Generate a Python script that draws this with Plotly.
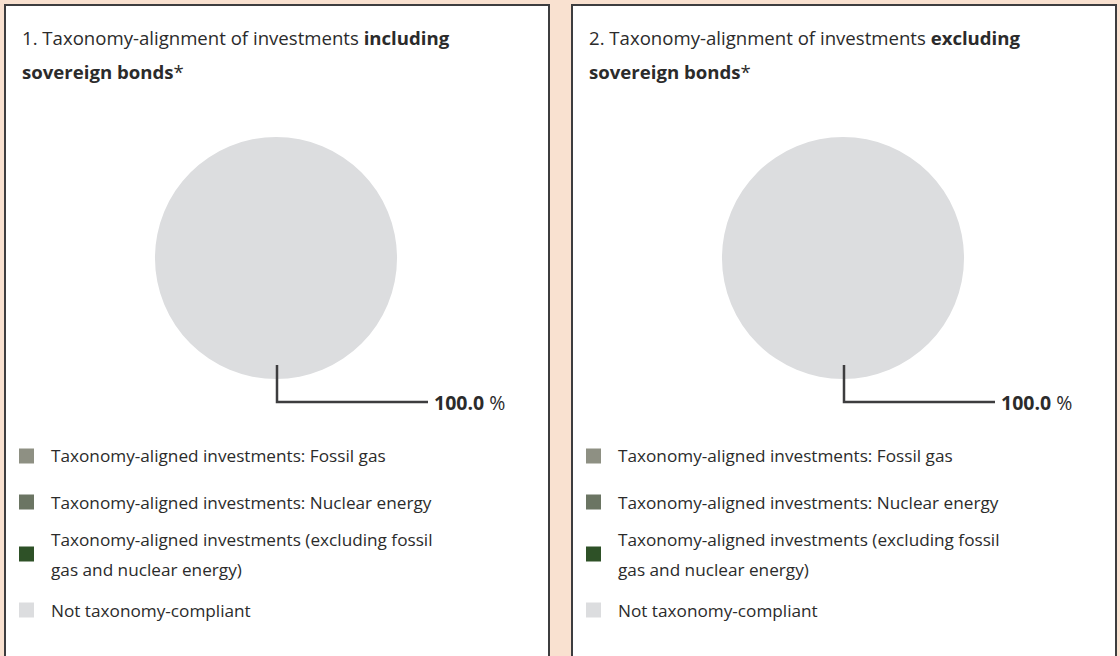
import plotly.graph_objects as go

W, H = 1120, 656

# ---- data ----
categories = [
    "Taxonomy-aligned investments: Fossil gas",
    "Taxonomy-aligned investments: Nuclear energy",
    "Taxonomy-aligned investments (excluding fossil<br>gas and nuclear energy)",
    "Not taxonomy-compliant",
]
colors = ["#8e9083", "#6b7563", "#2e5127", "#dcdddf"]
values_incl = [0.0, 0.0, 0.0, 100.0]
values_excl = [0.0, 0.0, 0.0, 100.0]
panel_titles = [
    ("1. Taxonomy-alignment of investments <b>including</b>", "<b>sovereign bonds</b>*"),
    ("2. Taxonomy-alignment of investments <b>excluding</b>", "<b>sovereign bonds</b>*"),
]

BG = "#f9e1d0"
INK = "#2b2b2b"
LINE = "#3d3d3f"
FONT = "Open Sans"


def px(x):
    return x / W


def py(y):
    return 1 - y / H


fig = go.Figure()
shapes = []
annotations = []

panel_left = [5, 572]
panel_w = 544
series = [values_incl, values_excl]

for p, (x0, vals) in enumerate(zip(panel_left, series)):
    # panel box
    shapes.append(dict(type="rect", xref="paper", yref="paper",
                       x0=px(x0), x1=px(x0 + panel_w), y0=py(5), y1=py(680),
                       line=dict(color=LINE, width=2), fillcolor="white", layer="below"))
    # title
    t1, t2 = panel_titles[p]
    annotations.append(dict(text=t1, xref="paper", yref="paper", x=px(x0 + 15), y=py(37),
                            xanchor="left", yanchor="middle", showarrow=False,
                            font=dict(family=FONT, size=18.6, color=INK)))
    annotations.append(dict(text=t2, xref="paper", yref="paper", x=px(x0 + 15), y=py(71),
                            xanchor="left", yanchor="middle", showarrow=False,
                            font=dict(family=FONT, size=18.6, color=INK)))
    # pie
    cx, cy, r = x0 + 271, 258, 121
    fig.add_trace(go.Pie(
        labels=[c.replace("<br>", " ") for c in categories], values=vals,
        marker=dict(colors=colors, line=dict(width=0)),
        sort=False, direction="clockwise", textinfo="none", showlegend=False,
        hovertemplate="%{label}: %{value:.1f} %<extra></extra>",
        domain=dict(x=[px(cx - r), px(cx + r)], y=[py(cy + r), py(cy - r)]),
    ))
    # leader line + value label for the largest slice
    big = max(range(len(vals)), key=lambda i: vals[i])
    total = sum(vals)
    lx = cx + 1
    shapes.append(dict(type="path", xref="paper", yref="paper",
                       path=f"M {px(lx)} {py(365)} L {px(lx)} {py(402)} L {px(lx + 151)} {py(402)}",
                       line=dict(color=LINE, width=2.5)))
    annotations.append(dict(text=f"<b>{vals[big] / total * 100:.1f}</b> %",
                            xref="paper", yref="paper", x=px(lx + 155), y=py(402),
                            xanchor="left", yanchor="middle", showarrow=False,
                            font=dict(family=FONT, size=19.5, color=INK)))
    # legend
    row_y = [456, 502, 554, 610]
    for i, (cat, col) in enumerate(zip(categories, colors)):
        yc = row_y[i]
        shapes.append(dict(type="rect", xref="paper", yref="paper",
                           x0=px(x0 + 14), x1=px(x0 + 29), y0=py(yc + 7.5), y1=py(yc - 7.5),
                           line=dict(width=0), fillcolor=col))
        lines = cat.split("<br>")
        n = len(lines)
        for j, ln in enumerate(lines):
            ly = yc + (j - (n - 1) / 2) * 30
            annotations.append(dict(text=ln, xref="paper", yref="paper", x=px(x0 + 44), y=py(ly),
                                    xanchor="left", yanchor="middle", showarrow=False,
                                    font=dict(family=FONT, size=17.2, color=INK)))

fig.update_layout(
    width=W, height=H,
    margin=dict(l=0, r=0, t=0, b=0),
    paper_bgcolor=BG, plot_bgcolor=BG,
    shapes=shapes, annotations=annotations,
    showlegend=False,
)

fig.write_html("out.html", config={"displayModeBar": False},
               post_script="document.body.style.margin='0';document.body.style.overflow='hidden';")
